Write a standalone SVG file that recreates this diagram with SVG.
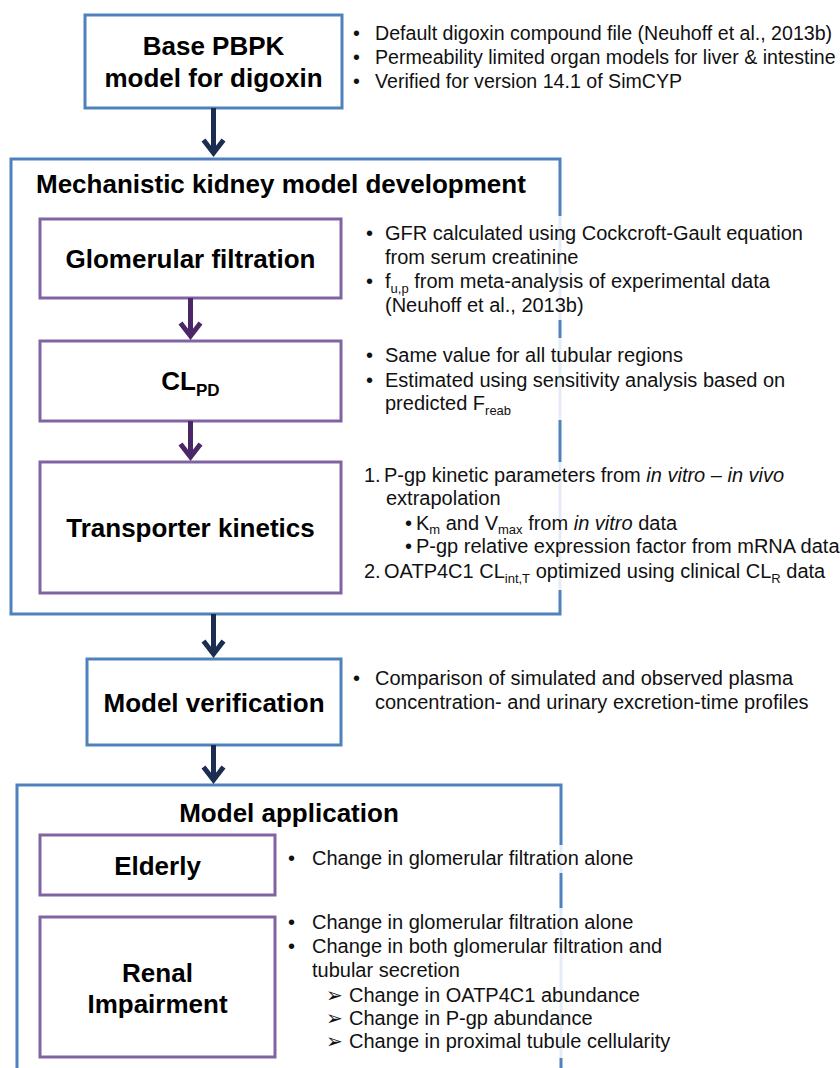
<svg xmlns="http://www.w3.org/2000/svg" width="840" height="1068" viewBox="0 0 840 1068">
<style>
text{font-family:"Liberation Sans",Arial,Helvetica,sans-serif;fill:#111}
.h{font-weight:bold;font-size:26px;fill:#000}
.b{font-size:20px}
.t{font-size:19.6px}
.s{font-size:13px}
.blue{fill:#fff;stroke:#4f81bd;stroke-width:3}
.outer{fill:none;stroke:#4f81bd;stroke-width:3}
.purple{fill:#fff;stroke:#8064a2;stroke-width:3}
.cover{fill:#fff;opacity:0.85}
.an{fill:none;stroke:#1b2d50;stroke-width:5;stroke-linejoin:miter}
.ap{fill:none;stroke:#4b2768;stroke-width:5;stroke-linejoin:miter}
</style>
<rect width="840" height="1068" fill="#fff"/>

<g id="base-model">
<rect class="blue" x="85" y="15" width="257" height="93"/>
<text class="h" x="213.5" y="55" text-anchor="middle">Base PBPK</text>
<text class="h" x="213.5" y="87" text-anchor="middle">model for digoxin</text>
</g>
<g id="base-notes">
<text class="t" x="353" y="40">•</text><text class="t" x="375" y="40">Default digoxin compound file (Neuhoff et al., 2013b)</text>
<text class="t" x="353" y="64">•</text><text class="t" x="375" y="64">Permeability limited organ models for liver &amp; intestine</text>
<text class="t" x="353" y="88">•</text><text class="t" x="375" y="88">Verified for version 14.1 of SimCYP</text>
</g>

<g id="kidney-model">
<rect class="outer" x="11" y="159" width="549" height="455"/>
<text class="h" x="36" y="193">Mechanistic kidney model development</text>
</g>
<g id="covers-kidney">
<rect class="cover" x="352" y="216" width="480" height="104"/>
<rect class="cover" x="352" y="338" width="480" height="82"/>
<rect class="cover" x="352" y="462" width="480" height="128"/>
</g>

<g id="glomerular-filtration">
<rect class="purple" x="40" y="219" width="301" height="79"/>
<text class="h" x="190.5" y="268" text-anchor="middle">Glomerular filtration</text>
</g>
<g id="glomerular-notes">
<text class="b" x="366" y="240">•</text><text class="b" x="385" y="240">GFR calculated using Cockcroft-Gault equation</text>
<text class="b" x="385" y="264">from serum creatinine</text>
<text class="b" x="366" y="288">•</text><text class="b" x="385" y="288">f<tspan class="s" dy="5">u,p</tspan><tspan dy="-5"> from meta-analysis of experimental data</tspan></text>
<text class="b" x="385" y="312">(Neuhoff et al., 2013b)</text>
</g>

<g id="cl-pd">
<rect class="purple" x="40" y="341" width="301" height="80"/>
<text class="h" x="190.5" y="390" text-anchor="middle">CL<tspan font-size="17" dy="6">PD</tspan></text>
</g>
<g id="cl-pd-notes">
<text class="b" x="366" y="362">•</text><text class="b" x="385" y="362">Same value for all tubular regions</text>
<text class="b" x="366" y="387">•</text><text class="b" x="385" y="387">Estimated using sensitivity analysis based on</text>
<text class="b" x="385" y="410">predicted F<tspan class="s" dy="5">reab</tspan></text>
</g>

<g id="transporter-kinetics">
<rect class="purple" x="40" y="462" width="301" height="131"/>
<text class="h" x="190.5" y="537" text-anchor="middle">Transporter kinetics</text>
</g>
<g id="transporter-notes">
<text class="b" x="364" y="482">1.</text><text class="b" x="384" y="482">P-gp kinetic parameters from <tspan font-style="italic">in vitro – in vivo</tspan></text>
<text class="b" x="386" y="505">extrapolation</text>
<text class="b" x="405" y="530">•</text><text class="b" x="416" y="530">K<tspan class="s" dy="4">m</tspan><tspan dy="-4"> and V</tspan><tspan class="s" dy="4">max</tspan><tspan dy="-4"> from </tspan><tspan font-style="italic">in vitro</tspan> data</text>
<text class="b" x="405" y="553">•</text><text class="b" x="416" y="553">P-gp relative expression factor from mRNA data</text>
<text class="b" x="364" y="578">2.</text><text class="b" x="384" y="578">OATP4C1 CL<tspan class="s" dy="5">int,T</tspan><tspan dy="-5"> optimized using clinical CL</tspan><tspan class="s" dy="5">R</tspan><tspan dy="-5"> data</tspan></text>
</g>

<g id="model-verification">
<rect class="blue" x="87" y="659" width="254" height="86"/>
<text class="h" x="214" y="712" text-anchor="middle">Model verification</text>
</g>
<g id="verification-notes">
<text class="b" x="353" y="685">•</text><text class="b" x="375" y="685">Comparison of simulated and observed plasma</text>
<text class="b" x="375" y="709">concentration- and urinary excretion-time profiles</text>
</g>

<g id="model-application">
<rect class="outer" x="17" y="785" width="544" height="300"/>
<text class="h" x="289" y="822" text-anchor="middle">Model application</text>
</g>
<g id="covers-application">
<rect class="cover" x="285" y="845" width="400" height="28"/>
<rect class="cover" x="285" y="908" width="400" height="150"/>
</g>

<g id="elderly">
<rect class="purple" x="40" y="835" width="235" height="60"/>
<text class="h" x="157.5" y="875" text-anchor="middle">Elderly</text>
</g>
<g id="elderly-notes">
<text class="b" x="288" y="865">•</text><text class="b" x="312" y="865">Change in glomerular filtration alone</text>
</g>

<g id="renal-impairment">
<rect class="purple" x="40" y="917" width="235" height="140"/>
<text class="h" x="157.5" y="982" text-anchor="middle">Renal</text>
<text class="h" x="157.5" y="1013" text-anchor="middle">Impairment</text>
</g>
<g id="renal-notes">
<text class="b" x="288" y="929">•</text><text class="b" x="312" y="929">Change in glomerular filtration alone</text>
<text class="b" x="288" y="953">•</text><text class="b" x="312" y="953">Change in both glomerular filtration and</text>
<text class="b" x="312" y="977">tubular secretion</text>
<text class="b" x="326" y="1002" font-size="18">➢</text><text class="b" x="349" y="1002">Change in OATP4C1 abundance</text>
<text class="b" x="326" y="1025" font-size="18">➢</text><text class="b" x="349" y="1025">Change in P-gp abundance</text>
<text class="b" x="326" y="1048" font-size="18">➢</text><text class="b" x="349" y="1048">Change in proximal tubule cellularity</text>
</g>

<g id="connectors">
<path class="an" d="M213.5 108 V153 M203.5 140 L213.5 153 L223.5 140"/>
<path class="ap" d="M190.5 298 V336 M180.5 323 L190.5 336 L200.5 323"/>
<path class="ap" d="M190.5 421 V457 M180.5 444 L190.5 457 L200.5 444"/>
<path class="an" d="M213.5 614 V654 M203.5 641 L213.5 654 L223.5 641"/>
<path class="an" d="M213.5 745 V780 M203.5 767 L213.5 780 L223.5 767"/>
</g>
</svg>
